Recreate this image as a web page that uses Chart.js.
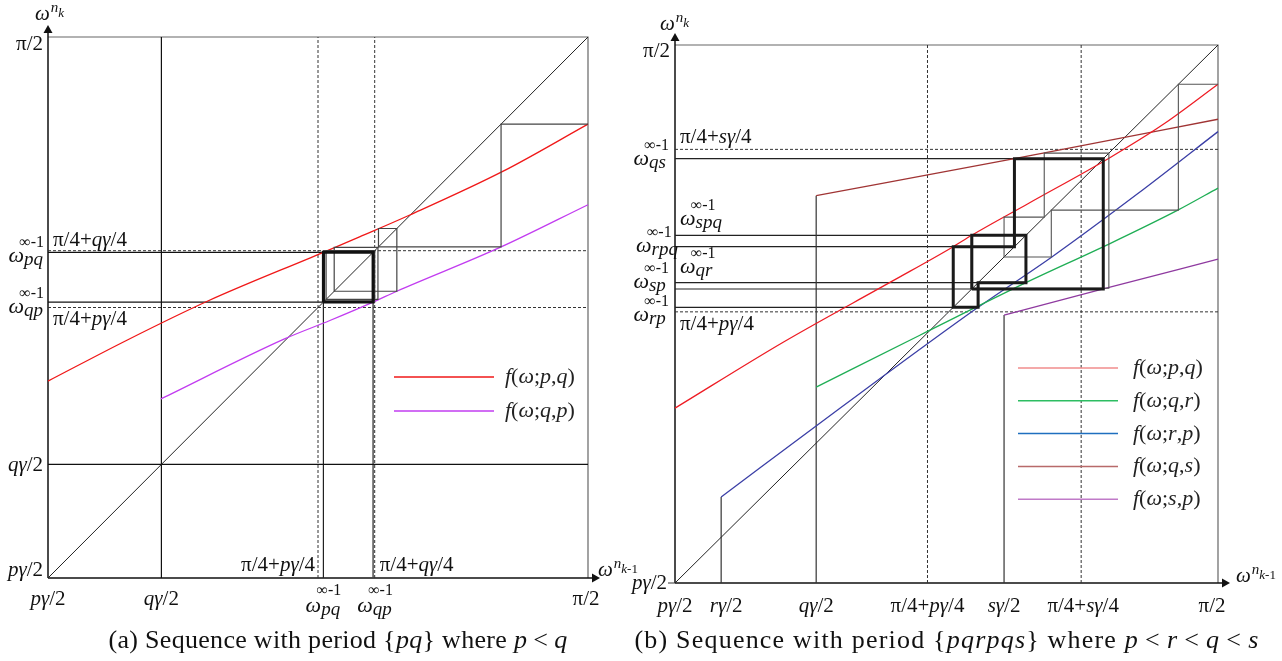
<!DOCTYPE html>
<html>
<head>
<meta charset="utf-8">
<script src="https://cdn.jsdelivr.net/npm/chart.js@4.4.0/dist/chart.umd.min.js"></script>
<style>
  html, body { margin: 0; padding: 0; background: #fff; }
  #wrap { position: relative; width: 1282px; height: 661px; overflow: hidden; }
  canvas { position: absolute; top: 0; }
  .cap { position: absolute; top: 625px; font-family: "Liberation Serif", serif; font-size: 26px;
         color: #111; white-space: nowrap; transform: translateX(-50%); }
  .cap .rel { margin: 0 6px; }
</style>
</head>
<body>
<div id="wrap">
  <canvas id="panelA" width="640" height="661" style="left:0"></canvas>
  <canvas id="panelB" width="682" height="661" style="left:600px"></canvas>
  <div class="cap" style="left:338px;letter-spacing:0.3px">(a) Sequence with period {<i>pq</i>} where <i>p</i><span class="rel">&lt;</span><i>q</i></div>
  <div class="cap" style="left:947px;letter-spacing:1.2px">(b) Sequence with period {<i>pqrpqs</i>} where <i>p</i><span class="rel">&lt;</span><i>r</i><span class="rel">&lt;</span><i>q</i><span class="rel">&lt;</span><i>s</i></div>
</div>
<script>
// Axis units: 0 = pγ/2, 1 = π/2 on both axes.

// ---------- (a) period {pq} ----------
const aRedX = [0, 0.147, 0.296, 0.51, 0.578, 0.67, 0.843, 1];
const aRedY = [0.364, 0.44, 0.512, 0.602, 0.631, 0.671, 0.752, 0.839];
const aVioX = [0.209, 0.438, 0.522, 0.602, 0.646, 0.837, 1];
const aVioY = [0.331, 0.442, 0.476, 0.51, 0.53, 0.611, 0.69];
const aQg2 = 0.21;                 // qγ/2
const aMid = [0.5, 0.605];         // π/4+pγ/4, π/4+qγ/4
const aCycle = [0.51, 0.602];      // limit cycle of the pq sequence
const aOrbit = [1, 0.839, 0.612, 0.646, 0.53, 0.611, 0.515, 0.605, 0.512, 0.603];

// ---------- (b) period {pqrpqs} ----------
const bRedX = [0, 0.2, 0.4, 0.5124, 0.5465, 0.65, 0.8, 0.9, 1];
const bRedY = [0.325, 0.448, 0.561, 0.6251, 0.6463, 0.705, 0.79, 0.853, 0.927];
const bGrnX = [0.26, 0.45, 0.6463, 0.795, 0.926, 1];
const bGrnY = [0.364, 0.46, 0.5582, 0.628, 0.693, 0.734];
const bBluX = [0.085, 0.3, 0.5582, 0.694, 0.85, 1];
const bBluY = [0.16, 0.322, 0.5124, 0.606, 0.722, 0.839];
const bBrnX = [0.26, 0.6251, 0.678, 1];
const bBrnY = [0.72, 0.7887, 0.799, 0.862];
const bPurX = [0.606, 0.7887, 1];
const bPurY = [0.498, 0.5465, 0.602];
const bRg2 = 0.085, bQg2 = 0.26, bSg2 = 0.606;   // rγ/2, qγ/2, sγ/2
const bMidX = [0.465, 0.748];      // π/4+pγ/4, π/4+sγ/4 on the horizontal axis
const bMidY = [0.504, 0.806];      // the same levels on the vertical axis
const bCycle = [0.5465, 0.6463, 0.5582, 0.5124, 0.6251, 0.7887];
const bOrbit = [1, 0.927, 0.693, 0.606, 0.68, 0.799, 0.548, 0.647, 0.559, 0.513, 0.625, 0.788, 0.547];

// ---------- helpers ----------
const zip = (xs, ys) => xs.map((x, i) => ({ x, y: ys[i] }));
const pts = arr => arr.map(([x, y]) => ({ x, y }));

function orbitPath(seq) {                 // cobweb steps through successive iterates
  const p = [[seq[0], seq[1]]];
  for (let i = 1; i < seq.length - 1; i++) { p.push([seq[i], seq[i]]); p.push([seq[i], seq[i + 1]]); }
  p.push([seq[seq.length - 1], seq[seq.length - 1]]);
  return p;
}
function cyclePath(c) {                   // closed cobweb of a periodic orbit
  const p = [];
  for (let i = 0; i < c.length; i++) { p.push([c[i], c[i]]); p.push([c[i], c[(i + 1) % c.length]]); }
  p.push([c[0], c[0]]);
  return p;
}
function cycleLevels(c) {                 // horizontal guide from the axis to each cycle level
  return c.map((v, i) => { const prev = c[(i - 1 + c.length) % c.length]; return [[0, v], [Math.min(prev, v), v]]; });
}

function line(data, color, width, extra) {
  return Object.assign({ data, showLine: true, borderColor: color, borderWidth: width,
    pointRadius: 0, pointHoverRadius: 0, fill: false, tension: 0, clip: false }, extra || {});
}
function curve(data, color) {
  return line(data, color, 1.3, { cubicInterpolationMode: 'monotone' });
}
const DASH = { borderDash: [3, 2] };
const DASHC = '#333';

// text with italic letters and upright digits / symbols
const ITAL = /[A-Za-zγω]/;
function runs(str) {
  const out = [];
  for (const ch of str) {
    const it = ITAL.test(ch);
    if (out.length && out[out.length - 1].it === it) out[out.length - 1].t += ch;
    else out.push({ t: ch, it });
  }
  return out;
}
const fontOf = (it, size) => (it ? 'italic ' : '') + size + 'px "Liberation Serif", serif';
function textW(ctx, str, size) {
  let w = 0;
  for (const r of runs(str)) { ctx.font = fontOf(r.it, size); w += ctx.measureText(r.t).width; }
  return w;
}
function text(ctx, str, x, y, size, align) {
  const w = textW(ctx, str, size);
  let cx = align === 'right' ? x - w : align === 'center' ? x - w / 2 : x;
  ctx.textAlign = 'left'; ctx.textBaseline = 'alphabetic';
  for (const r of runs(str)) { ctx.font = fontOf(r.it, size); ctx.fillText(r.t, cx, y); cx += ctx.measureText(r.t).width; }
}
// ω^{∞-1}_{sub}
function omega(ctx, sub, x, y, align, supDy) {
  const S = 22;
  const wo = textW(ctx, 'ω', S), ws = textW(ctx, sub, 19), wu = textW(ctx, '∞-1', 16);
  const total = Math.max(wo + ws, wo * 0.7 + wu);
  const x0 = align === 'right' ? x - total : align === 'center' ? x - total / 2 : x;
  text(ctx, 'ω', x0, y, S, 'left');
  text(ctx, sub, x0 + wo, y + 3, 19, 'left');
  text(ctx, '∞-1', x0 + wo * 0.7, y - (supDy || 15), 16, 'left');
}
// ω^{n_{k}} style axis name
function axisName(ctx, k, x, y) {
  const wo = textW(ctx, 'ω', 21);
  text(ctx, 'ω', x, y, 21, 'left');
  text(ctx, 'n', x + wo + 1, y - 8, 15, 'left');
  text(ctx, k, x + wo + 1 + textW(ctx, 'n', 15), y - 3, 13, 'left');
}

function frame(ctx, ca, opt) {
  ctx.save();
  ctx.strokeStyle = '#666'; ctx.lineWidth = 1.2;
  ctx.beginPath();
  ctx.moveTo(ca.left, ca.top); ctx.lineTo(ca.right, ca.top); ctx.lineTo(ca.right, ca.bottom);
  ctx.stroke();
  ctx.strokeStyle = '#111'; ctx.fillStyle = '#111'; ctx.lineWidth = 1.5;
  ctx.beginPath();
  ctx.moveTo(ca.left, ca.bottom); ctx.lineTo(ca.left, ca.top - opt.up);
  ctx.moveTo(ca.left, ca.bottom); ctx.lineTo(ca.right + opt.out, ca.bottom);
  ctx.stroke();
  // arrow heads
  ctx.beginPath();
  ctx.moveTo(ca.left, ca.top - opt.up - 8); ctx.lineTo(ca.left - 4.5, ca.top - opt.up); ctx.lineTo(ca.left + 4.5, ca.top - opt.up);
  ctx.closePath(); ctx.fill();
  ctx.beginPath();
  ctx.moveTo(ca.right + opt.out + 8, ca.bottom); ctx.lineTo(ca.right + opt.out, ca.bottom - 4.5); ctx.lineTo(ca.right + opt.out, ca.bottom + 4.5);
  ctx.closePath(); ctx.fill();
  ctx.restore();
}

function legend(ctx, x0, y0, gap, tx, items) {
  items.forEach((it, i) => {
    const y = y0 + i * gap;
    ctx.save();
    ctx.strokeStyle = it.color; ctx.lineWidth = 1.5;
    ctx.beginPath(); ctx.moveTo(x0, y); ctx.lineTo(x0 + 100, y); ctx.stroke();
    ctx.restore();
    ctx.fillStyle = '#222';
    text(ctx, it.label, x0 + tx, y + 6, 22, 'left');
  });
}

function baseOptions(pad) {
  return {
    responsive: false, animation: false, devicePixelRatio: 1,
    layout: { padding: pad },
    plugins: { legend: { display: false }, tooltip: { enabled: false } },
    events: [],
    scales: {
      x: { type: 'linear', min: 0, max: 1, display: false },
      y: { type: 'linear', min: 0, max: 1, display: false }
    }
  };
}

// ---------- chart (a) ----------
const aRed = '#f01818', aVio = '#c23cf0';
const aDatasets = [
  line(pts(cyclePath(aCycle)), '#111', 3, { order: -2 }),
  line(pts(orbitPath(aOrbit)), '#444', 1.2, { order: -1 }),
  curve(zip(aRedX, aRedY), aRed),
  curve(zip(aVioX, aVioY), aVio),
  line(pts([[0, 0], [1, 1]]), '#222', 1),
  line(pts([[aQg2, 0], [aQg2, 1]]), '#111', 1.2),
  line(pts([[0, aQg2], [1, aQg2]]), '#111', 1.2),
  ...aMid.map(v => line(pts([[v, 0], [v, 1]]), DASHC, 1, DASH)),
  ...aMid.map(v => line(pts([[0, v], [1, v]]), DASHC, 1, DASH)),
  ...cycleLevels(aCycle).map(s => line(pts(s), '#111', 1.2)),
  line(pts([[aCycle[0], 0], [aCycle[0], aCycle[0]]]), '#222', 1.2),
  line(pts([[aCycle[1], 0], [aCycle[1], aCycle[0]]]), '#444', 1.4)
];

const aLabels = {
  id: 'aLabels',
  beforeDatasetsDraw(chart) { frame(chart.ctx, chart.chartArea, { up: 4, out: 4 }); },
  afterDatasetsDraw(chart) {
    const ctx = chart.ctx, X = v => chart.scales.x.getPixelForValue(v), Y = v => chart.scales.y.getPixelForValue(v);
    const x0 = X(0), y0 = Y(0);
    ctx.fillStyle = '#111';
    // vertical axis
    text(ctx, 'π/2', x0 - 5, Y(1) + 13, 21, 'right');
    text(ctx, 'π/4+qγ/4', x0 + 5, Y(aMid[1]) - 5, 21, 'left');
    omega(ctx, 'pq', x0 - 4, Y(aCycle[1]) + 10, 'right');
    omega(ctx, 'qp', x0 - 4, Y(aCycle[0]) + 11, 'right');
    text(ctx, 'π/4+pγ/4', x0 + 5, Y(aMid[0]) + 17, 21, 'left');
    text(ctx, 'qγ/2', x0 - 5, Y(aQg2) + 7, 21, 'right');
    text(ctx, 'pγ/2', x0 - 5, y0 - 2, 21, 'right');
    // horizontal axis
    const xb = y0 + 27;
    text(ctx, 'pγ/2', x0, xb, 21, 'center');
    text(ctx, 'qγ/2', X(aQg2), xb, 21, 'center');
    omega(ctx, 'pq', X(aCycle[0]), y0 + 34, 'center', 17);
    omega(ctx, 'qp', X(aCycle[1]) + 2, y0 + 34, 'center', 17);
    text(ctx, 'π/2', X(1) - 2, xb, 21, 'center');
    text(ctx, 'π/4+pγ/4', X(aMid[0]) - 3, y0 - 7, 21, 'right');
    text(ctx, 'π/4+qγ/4', X(aMid[1]) + 5, y0 - 7, 21, 'left');
    axisName(ctx, 'k', x0 - 13, Y(1) - 17);
    axisName(ctx, 'k-1', X(1) + 10, y0 - 2);
    legend(ctx, X(0) + 346, Y(0) - 201, 34, 111, [
      { color: aRed, label: 'f(ω;p,q)' },
      { color: aVio, label: 'f(ω;q,p)' }
    ]);
  }
};

new Chart(document.getElementById('panelA'), {
  type: 'scatter',
  data: { datasets: aDatasets },
  options: baseOptions({ left: 48, top: 37, right: 52, bottom: 83 }),
  plugins: [aLabels]
});

// ---------- chart (b) ----------
const bRed = '#ee1c24', bGrn = '#1fae55', bBlu = '#3b3fa6', bBrn = '#a03434', bPur = '#8f3aa0';
const startOf = (xs, ys) => [[xs[0], 0], [xs[0], ys[0]]];
const bDatasets = [
  line(pts(cyclePath(bCycle)), '#1a1a1a', 3, { order: -2 }),
  line(pts(orbitPath(bOrbit)), '#555', 1.1, { order: -1 }),
  curve(zip(bRedX, bRedY), bRed),
  curve(zip(bGrnX, bGrnY), bGrn),
  curve(zip(bBluX, bBluY), bBlu),
  curve(zip(bBrnX, bBrnY), bBrn),
  curve(zip(bPurX, bPurY), bPur),
  line(pts([[0, 0], [1, 1]]), '#222', 1),
  line(pts(startOf(bBluX, bBluY)), '#333', 1.2),
  line(pts(startOf(bBrnX, bBrnY)), '#333', 1.2),
  line(pts(startOf(bPurX, bPurY)), '#333', 1.2),
  ...bMidX.map(v => line(pts([[v, 0], [v, 1]]), DASHC, 1, DASH)),
  ...bMidY.map(v => line(pts([[0, v], [1, v]]), DASHC, 1, DASH)),
  ...cycleLevels(bCycle).map(s => line(pts(s), '#222', 1.2))
];

const bLabels = {
  id: 'bLabels',
  beforeDatasetsDraw(chart) { frame(chart.ctx, chart.chartArea, { up: 4, out: 4 }); },
  afterDatasetsDraw(chart) {
    const ctx = chart.ctx, X = v => chart.scales.x.getPixelForValue(v), Y = v => chart.scales.y.getPixelForValue(v);
    const x0 = X(0), y0 = Y(0);
    ctx.fillStyle = '#111';
    // vertical axis
    text(ctx, 'π/2', x0 - 5, Y(1) + 12, 21, 'right');
    text(ctx, 'π/4+sγ/4', x0 + 5, Y(bMidY[1]) - 6, 21, 'left');
    omega(ctx, 'qs', x0 - 6, Y(bCycle[5]) + 6, 'right');
    omega(ctx, 'spq', x0 + 5, Y(bCycle[1]) - 10, 'left');
    omega(ctx, 'rpq', x0 + 3, Y(bCycle[4]) + 5, 'right');
    omega(ctx, 'qr', x0 + 5, Y(bCycle[2]) - 10, 'left');
    omega(ctx, 'sp', x0 - 6, Y(bCycle[0]) - 1, 'right');
    omega(ctx, 'rp', x0 - 6, Y(bCycle[3]) + 14, 'right');
    text(ctx, 'π/4+pγ/4', x0 + 5, Y(bMidY[0]) + 18, 21, 'left');
    text(ctx, 'pγ/2', x0 - 8, y0 + 6, 21, 'right');
    ctx.save(); ctx.strokeStyle = '#333'; ctx.lineWidth = 1;
    ctx.beginPath(); ctx.moveTo(x0 - 7, y0); ctx.lineTo(x0, y0); ctx.stroke(); ctx.restore();
    // horizontal axis
    const xb = y0 + 29;
    text(ctx, 'pγ/2', x0, xb, 21, 'center');
    text(ctx, 'rγ/2', X(bRg2) + 5, xb, 21, 'center');
    text(ctx, 'qγ/2', X(bQg2), xb, 21, 'center');
    text(ctx, 'π/4+pγ/4', X(bMidX[0]), xb, 21, 'center');
    text(ctx, 'sγ/2', X(bSg2), xb, 21, 'center');
    text(ctx, 'π/4+sγ/4', X(bMidX[1]) + 2, xb, 21, 'center');
    text(ctx, 'π/2', X(1) - 6, xb, 21, 'center');
    axisName(ctx, 'k', x0 - 15, Y(1) - 15);
    axisName(ctx, 'k-1', X(1) + 18, y0 - 1);
    legend(ctx, X(0) + 343, Y(0) - 215, 32.8, 115, [
      { color: '#f08c8c', label: 'f(ω;p,q)' },
      { color: '#2dbd62', label: 'f(ω;q,r)' },
      { color: '#1f6fbf', label: 'f(ω;r,p)' },
      { color: '#b86a6a', label: 'f(ω;q,s)' },
      { color: '#c07ac8', label: 'f(ω;s,p)' }
    ]);
  }
};

new Chart(document.getElementById('panelB'), {
  type: 'scatter',
  data: { datasets: bDatasets },
  options: baseOptions({ left: 75, top: 45, right: 64, bottom: 78 }),
  plugins: [bLabels]
});
</script>
</body>
</html>
